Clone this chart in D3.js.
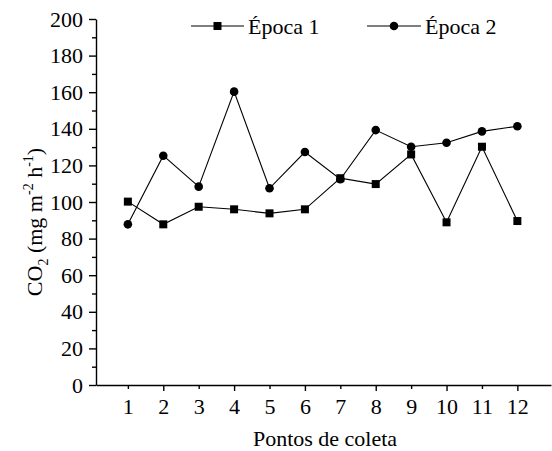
<!DOCTYPE html>
<html><head><meta charset="utf-8">
<script src="https://cdn.jsdelivr.net/npm/d3@7"></script>
<style>body{margin:0;background:#fff}svg{display:block}</style>
</head><body><svg id="c" width="552" height="451"></svg>
<script>
const points = [1,2,3,4,5,6,7,8,9,10,11,12];
const epoca1 = [100.2, 87.8, 97.4, 96.0, 93.8, 96.0, 113.0, 109.8, 126.0, 88.9, 130.2, 89.6];
const epoca2 = [87.8, 125.3, 108.4, 160.3, 107.5, 127.3, 112.4, 139.3, 130.2, 132.4, 138.6, 141.4];
const seriesNames = ["Época 1", "Época 2"];
const yTicks = [0,20,40,60,80,100,120,140,160,180,200];
const xTitle = "Pontos de coleta";

const FONT = "'Liberation Serif', Tinos, 'Times New Roman', 'DejaVu Serif', serif";
const svg = d3.select("#c");
const x = d3.scaleLinear().domain([0.1, 12.95]).range([96, 551]);
const y = d3.scaleLinear().domain([0, 200]).range([385, 19]);
const FS = 22;

// y axis
const yAxis = svg.append("g").attr("transform","translate(96,0)");
yAxis.call(d3.axisLeft(y).tickValues(yTicks).tickSize(7).tickSizeOuter(0).tickPadding(6));
yAxis.append("g").call(d3.axisLeft(y).tickValues(d3.range(10,200,20)).tickSize(4).tickFormat(""))
  .select(".domain").remove();
// x axis
const xAxis = svg.append("g").attr("transform","translate(0,385)");
xAxis.call(d3.axisBottom(x).tickValues(points).tickSize(6).tickSizeOuter(0).tickPadding(7).tickFormat(d3.format("d")));
xAxis.selectAll(".tick line").attr("y2", d => d % 2 === 0 ? 6 : 4);
svg.selectAll(".domain, .tick line").attr("stroke","#000").attr("stroke-width",1.4);
svg.selectAll("g").attr("font-family", null).attr("font-size", null);

const line = d3.line().x((d,i)=>x(points[i])).y(d=>y(d));
const gS = svg.append("g");
function drawSeries(data, shape){
  gS.append("path").datum(data).attr("d",line).attr("fill","none").attr("stroke","#000").attr("stroke-width",1.1);
  if(shape==="square"){
    gS.selectAll(null).data(data).enter().append("rect")
      .attr("x",(d,i)=>x(points[i])-4).attr("y",d=>y(d)-4).attr("width",8).attr("height",8).attr("fill","#000");
  } else {
    gS.selectAll(null).data(data).enter().append("circle")
      .attr("cx",(d,i)=>x(points[i])).attr("cy",d=>y(d)).attr("r",4.3).attr("fill","#000");
  }
}
drawSeries(epoca1,"square");
drawSeries(epoca2,"circle");

// legend
const leg = [{x0:191, x1:244, tx:248, shape:"square"},{x0:367, x1:421, tx:425, shape:"circle"}];
leg.forEach((l,i)=>{
  const ly = 26;
  svg.append("line").attr("x1",l.x0).attr("x2",l.x1).attr("y1",ly).attr("y2",ly).attr("stroke","#000").attr("stroke-width",1.1);
  const mx=(l.x0+l.x1)/2;
  if(l.shape==="square") svg.append("rect").attr("x",mx-4).attr("y",ly-4).attr("width",8).attr("height",8);
  else svg.append("circle").attr("cx",mx).attr("cy",ly).attr("r",4.3);
  svg.append("text").attr("x",l.tx).attr("y",ly+8).text(seriesNames[i]);
});

// x title
svg.append("text").attr("x",325).attr("y",446).attr("text-anchor","middle").text(xTitle);
// y title
const yt = svg.append("text").attr("transform","translate(42,222) rotate(-90)").attr("text-anchor","middle");
yt.append("tspan").text("CO");
yt.append("tspan").style("font-size","14px").attr("dy",6).text("2");
yt.append("tspan").attr("dy",-6).text(" (mg m");
yt.append("tspan").style("font-size","14px").attr("dy",-9).text("-2");
yt.append("tspan").attr("dy",9).text(" h");
yt.append("tspan").style("font-size","14px").attr("dy",-9).text("-1");
yt.append("tspan").attr("dy",9).text(")");

svg.selectAll("text").style("font-family", FONT).style("fill","#000");
svg.selectAll("text").filter(function(){return this.tagName==="text";}).style("font-size", FS+"px");
</script></body></html>
